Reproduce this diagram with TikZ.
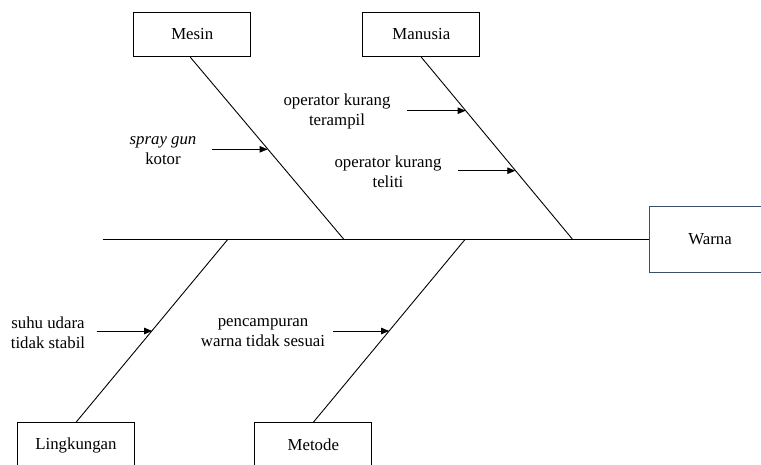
\documentclass[tikz,border=0pt]{standalone}
\usepackage{fontspec}
\setmainfont{Liberation Serif}
\usetikzlibrary{arrows.meta,calc}

\definecolor{effectedge}{RGB}{60,78,112}

\tikzset{
  bone/.style={line width=0.9pt, draw=black},
  causebox/.style={draw=black, line width=0.9pt, rectangle, inner sep=0pt,
    minimum width=117pt, minimum height=44.5pt, font=\fontsize{16.8}{20}\selectfont},
  effectbox/.style={draw=effectedge, line width=1pt, rectangle, inner sep=0pt,
    minimum width=122pt, minimum height=66pt, font=\fontsize{16.8}{20}\selectfont},
  cause/.style={align=center, inner sep=0pt, font=\fontsize{16.8}{20}\selectfont},
  pointer/.style={line width=0.8pt, -{Triangle[length=8pt,width=6.5pt]}}
}

\begin{document}
\begin{tikzpicture}[x=1pt,y=-1pt]
  \useasboundingbox (0,0) rectangle (761,464);

  % category boxes
  \node[causebox] (mesin)   at (192.3,34.5)  {Mesin};
  \node[causebox] (manusia) at (421.3,34.5)  {Manusia};
  \node[causebox] (lingk)   at (76,445)      {Lingkungan};
  \node[causebox] (metode)  at (313.3,445)   {Metode};
  % effect (head)
  \node[effectbox] (warna)  at (710,239.5)   {Warna};

  % spine
  \coordinate (tail) at (102.7,239.5);
  \draw[bone] (tail) -- (warna.west);

  % bones meeting the spine
  \coordinate (jmesin)   at (344,239.5);
  \coordinate (jmanusia) at (572.7,239.5);
  \coordinate (jlingk)   at (227.7,239.5);
  \coordinate (jmetode)  at (465,239.5);
  \coordinate (smesin) at ([xshift=-2pt]mesin.south);
  \draw[bone] (smesin) -- (jmesin);
  \draw[bone] (manusia.south) -- (jmanusia);
  \draw[bone] (lingk.north) -- (jlingk);
  \draw[bone] (metode.north) -- (jmetode);

  % cause labels
  \node[cause] (spray)  at (163,150.5) {\textit{spray gun}\\kotor};
  \node[cause] (terampil) at (337,111.5) {operator kurang\\terampil};
  \node[cause] (teliti) at (388,171.5) {operator kurang\\teliti};
  \node[cause] (suhu)   at (48,332.5)  {suhu udara\\tidak stabil};
  \node[cause] (campur) at (263,332.5) {pencampuran\\warna tidak sesuai};

  % pointers onto the bones
  \coordinate (p1) at (211.7,149.3);
  \coordinate (q1) at ($(smesin)!0.503!(jmesin)$);
  \draw[pointer] (p1) -- (p1 -| q1);

  \coordinate (p2) at (407,110.7);
  \coordinate (q2) at ($(manusia.south)!0.293!(jmanusia)$);
  \draw[pointer] (p2) -- (p2 -| q2);

  \coordinate (p3) at (458.3,170.7);
  \coordinate (q3) at ($(manusia.south)!0.621!(jmanusia)$);
  \draw[pointer] (p3) -- (p3 -| q3);

  \coordinate (p4) at (96.7,331);
  \coordinate (q4) at ($(jlingk)!0.498!(lingk.north)$);
  \draw[pointer] (p4) -- (p4 -| q4);

  \coordinate (p5) at (333,331);
  \coordinate (q5) at ($(jmetode)!0.50!(metode.north)$);
  \draw[pointer] (p5) -- (p5 -| q5);
\end{tikzpicture}
\end{document}
